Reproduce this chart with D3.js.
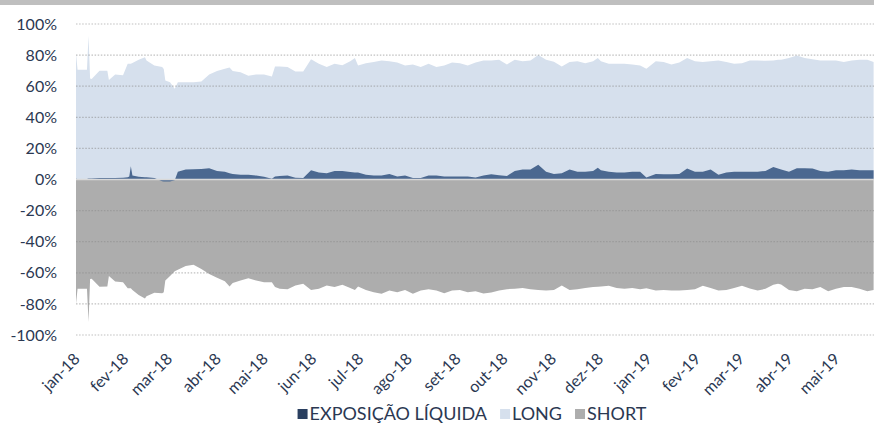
<!DOCTYPE html>
<html><head><meta charset="utf-8">
<script src="https://cdn.jsdelivr.net/npm/d3@7"></script>
<style>
body{margin:0;background:#fff;}
svg{display:block;font-family:Lato,"Open Sans",sans-serif;}
</style>
</head><body>
<svg id="chart" width="874" height="425"></svg>
<script>
// ---- data ----
const dates = [
"2018-01-02","2018-01-03","2018-01-07","2018-01-09","2018-01-10","2018-01-11","2018-01-12","2018-01-17","2018-01-22","2018-01-23",
"2018-01-27","2018-02-01","2018-02-04","2018-02-05","2018-02-06","2018-02-07","2018-02-11","2018-02-15","2018-02-16","2018-02-21",
"2018-02-26","2018-02-27","2018-02-28","2018-03-03","2018-03-06","2018-03-08","2018-03-13","2018-03-18","2018-03-23","2018-03-28",
"2018-04-02","2018-04-07","2018-04-10","2018-04-12","2018-04-17","2018-04-22","2018-04-27","2018-05-02","2018-05-07","2018-05-09",
"2018-05-12","2018-05-17","2018-05-22","2018-05-27","2018-06-01","2018-06-06","2018-06-11","2018-06-16","2018-06-21","2018-06-26",
"2018-06-29","2018-07-01","2018-07-06","2018-07-11","2018-07-16","2018-07-21","2018-07-26","2018-07-31","2018-08-05","2018-08-10",
"2018-08-15","2018-08-20","2018-08-25","2018-08-30","2018-09-04","2018-09-09","2018-09-14","2018-09-19","2018-09-24","2018-09-29",
"2018-10-04","2018-10-09","2018-10-14","2018-10-19","2018-10-24","2018-10-29","2018-11-03","2018-11-08","2018-11-13","2018-11-18",
"2018-11-23","2018-11-28","2018-12-01","2018-12-03","2018-12-08","2018-12-13","2018-12-18","2018-12-23","2018-12-28","2019-01-01",
"2019-01-07","2019-01-12","2019-01-17","2019-01-22","2019-01-27","2019-02-01","2019-02-06","2019-02-11","2019-02-16","2019-02-21",
"2019-02-26","2019-03-03","2019-03-08","2019-03-13","2019-03-18","2019-03-23","2019-03-26","2019-03-28","2019-04-02","2019-04-07",
"2019-04-12","2019-04-17","2019-04-22","2019-04-27","2019-05-02","2019-05-07","2019-05-12","2019-05-17","2019-05-22","2019-05-26"
];
const longVals = [
81,70.5,70.5,70.5,92.5,65,64.7,70,70,64,
67.5,67,74.5,74.5,74.5,75,77,78.6,76.5,73.3,
72.3,71,63.7,62.6,58.3,62.6,62.6,62.6,63,67.5,
69.7,71.2,72,69.7,68.9,66.8,67.5,67.5,66.2,72.6,
72.7,72.3,69.5,69.5,77.4,74.4,72.3,74.4,73.5,76.1,
78.2,73.3,74.8,75.5,76.5,76.1,75.2,73.3,74,72.3,
74.4,72.3,73.3,75.2,74.8,73.3,75.2,76.5,76.5,77,
74,77,76.1,76.5,80,77,75.7,72.7,75.5,76.1,
74.8,76.1,78.2,76,74.4,74.4,74.4,74,73.3,71.2,
76.1,75.5,74,75.2,78.2,76.1,75.5,76,76.5,75.5,
74.4,74.8,76.5,76.5,76.3,76.5,77,77,78.2,79.7,
78.2,77.4,76.5,76.5,76.5,75.5,76.5,77,77,75.5
];
const shortVals = [
-80,-70.3,-70.3,-70.3,-91.7,-64,-63.9,-69,-68.8,-62,
-65.6,-66,-70,-70,-70,-71,-74.2,-76.5,-75,-72.9,
-73.1,-72.5,-65,-62,-59,-58.1,-55.7,-54.9,-57.6,-60.7,
-63.2,-65.5,-68.8,-66.5,-65,-63.5,-65,-66,-66,-69.2,
-70.3,-70.5,-68.2,-67,-71,-70.3,-68.2,-69.2,-67.7,-69.7,
-71,-68.8,-71,-72.5,-73.5,-71.4,-72.5,-71,-73.5,-71.4,
-70.5,-71.4,-73.1,-71.4,-71,-72.5,-71.8,-73.3,-72.7,-71.4,
-70.5,-70.3,-69.7,-70.5,-71,-71.4,-71,-68.2,-71,-70.5,
-69.7,-69.2,-69,-68.8,-68.4,-69.7,-70.3,-69.7,-70.5,-70,
-71.4,-71,-71.4,-71.4,-71,-70.5,-68.4,-69.7,-71.4,-71,
-69.7,-68.4,-70.1,-71.4,-70.3,-67.7,-67.1,-67.5,-71,-71.8,
-70.3,-70.5,-69.2,-71.8,-70.3,-69.2,-69.2,-70.3,-71.8,-71
];
const netVals = [
0.5,0.3,0.3,0.3,0.6,0.6,0.6,1,1,1,
1,1.2,1.5,2,8.5,2.5,1.8,1.5,1.5,1,
-1.2,-1.3,-1.3,-1.3,-0.5,5,6.5,6.6,6.8,7.3,
5.5,5,4,3.5,3,3,2.5,1.8,0.5,2,
2.3,2.5,1.2,1,6,4.5,4,5.5,5.5,4.8,
4.5,4.5,3,2.5,2.5,3.5,2,2.5,1,1,
2.5,2.5,2,2,2,2,1.3,2.5,3.4,2.8,
2.3,5.5,6.5,6.5,9.5,5,3.5,4,6.5,5,
5,5.5,7.5,6,5,4.5,4.5,5,5,1.3,
3.5,3.4,3.4,3.5,7,5,5,6.5,3,4.5,
5,5,5,5,5.5,8,7,6.5,5,7.3,
7.3,7,5.5,5,6,6,6.5,6,6,6
];
const monthLabels = ["jan-18","fev-18","mar-18","abr-18","mai-18","jun-18","jul-18","ago-18","set-18","out-18","nov-18","dez-18","jan-19","fev-19","mar-19","abr-19","mai-19"];
const yTicks = [100,80,60,40,20,0,-20,-40,-60,-80,-100];
const seriesNames = ["EXPOSIÇÃO LÍQUIDA","LONG","SHORT"];

// ---- styling ----
const C = {
  long:"#d6e0ed", short:"#adadad", net:"#4b6890", netKey:"#2a3f60",
  text:"#2b3852", grid:"rgba(140,140,140,0.55)", axis:"#d9d9d9", band:"#bfbfbf"
};
const FONT = 'Lato,"Open Sans",sans-serif';

const svg = d3.select("#chart");
const parse = d3.utcParse("%Y-%m-%d");
const data = dates.map((d,i)=>({date:parse(d), long:longVals[i], short:shortVals[i], net:netVals[i]}));

const x = d3.scaleUtc().domain(d3.extent(data,d=>d.date)).range([76,873.6]);
const y = d3.scaleLinear().domain([-100,100]).range([335,24]);

// top band
svg.append("rect").attr("x",0).attr("y",0).attr("width",874).attr("height",5).attr("fill",C.band);

// areas
const area = key => d3.area().x(d=>x(d.date)).y0(y(0)).y1(d=>y(d[key]));
svg.append("path").datum(data).attr("d",area("long")).attr("fill",C.long);
svg.append("path").datum(data).attr("d",area("short")).attr("fill",C.short);

// gridlines (dotted)
svg.append("g").selectAll("line").data(yTicks.filter(t=>t!==0)).join("line")
  .attr("x1",76).attr("x2",874).attr("y1",d=>y(d)).attr("y2",d=>y(d))
  .attr("stroke",C.grid).attr("stroke-width",1.2).attr("stroke-dasharray","1.5,1.6");

svg.append("path").datum(data).attr("d",area("net")).attr("fill",C.net);

// zero axis line
svg.append("line").attr("x1",76).attr("x2",874).attr("y1",y(0)).attr("y2",y(0))
  .attr("stroke",C.axis).attr("stroke-width",1.5);

// y labels
const yAxis = d3.axisLeft(y).tickValues(yTicks).tickFormat(d=>d+"%").tickSize(0).tickPadding(0);
const gy = svg.append("g").attr("transform","translate(57,0)").call(yAxis);
gy.select(".domain").remove();
gy.selectAll("text").attr("fill",C.text).attr("font-size",16).attr("font-family",FONT);

// x labels
const months = d3.utcMonth.range(new Date(Date.UTC(2018,0,1)), new Date(Date.UTC(2019,5,1)));
const xAxis = d3.axisBottom(x).tickValues(months).tickFormat((d,i)=>monthLabels[i]).tickSize(0).tickPadding(0);
const gx = svg.append("g").attr("transform","translate(0,350)").call(xAxis);
gx.select(".domain").remove();
gx.selectAll("text").attr("fill",C.text).attr("font-size",16).attr("font-family",FONT)
  .attr("text-anchor","end").attr("dy",0).attr("y",0)
  .attr("transform","translate(6,10) rotate(-45)");

// legend
const keys = [C.netKey, C.long, C.short];
const lg = svg.append("g");
let cx = 0;
seriesNames.forEach((name,i)=>{
  const g = lg.append("g").attr("transform",`translate(${cx},0)`);
  g.append("rect").attr("x",0).attr("y",-11).attr("width",10).attr("height",10).attr("fill",keys[i]);
  const t = g.append("text").attr("x",12).attr("y",0).attr("font-size",18).attr("font-family",FONT)
    .attr("fill",C.text).text(name);
  const w = t.node().getComputedTextLength();
  cx += 12 + w + 13;
});
const total = cx - 13;
lg.attr("transform",`translate(${472 - total/2},420)`);
</script>
</body></html>
